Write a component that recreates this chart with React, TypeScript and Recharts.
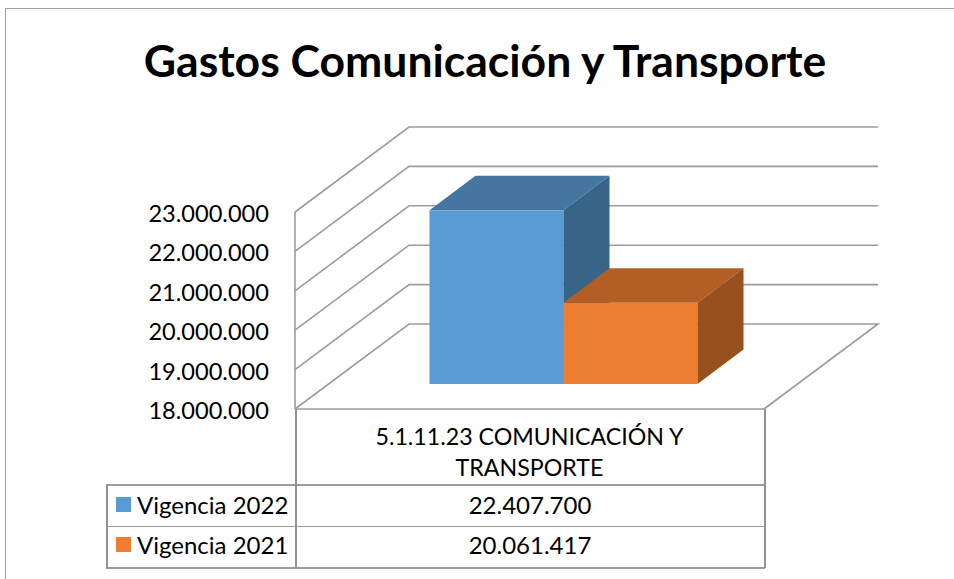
import React from "react";
import { BarChart, Bar, XAxis, YAxis, CartesianGrid } from "recharts";

const titleText = "Gastos Comunicación y Transporte";
const categories = ["5.1.11.23 COMUNICACIÓN Y TRANSPORTE"];
const vigencia2022 = [22407700];
const vigencia2021 = [20061417];
const seriesNames = ["Vigencia 2022", "Vigencia 2021"];
const yTicks = [18000000, 19000000, 20000000, 21000000, 22000000, 23000000];

const chartData = categories.map((category, i) => ({
  category,
  [seriesNames[0]]: vigencia2022[i],
  [seriesNames[1]]: vigencia2021[i],
}));

const FONT = "Lato, Carlito, Calibri, sans-serif";
const LINE = "#9c9c9c";
const WALL_DX = 114;
const WALL_DY = 85;
const BAR_SHIFT_X = 33.5;
const BAR_SHIFT_Y = 25;
const BOX_DX = 46;
const BOX_DY = 34.5;

const fmt = (v: number) => String(v).replace(/\B(?=(\d{3})+(?!\d))/g, ".");

const palette = [
  { front: "#5B9BD5", top: "#4575A1", side: "#386488" },
  { front: "#ED7D31", top: "#B35E24", side: "#98501F" },
];

const makeBox = (idx: number) => (props: any) => {
  const { x, y, width, height } = props;
  const c = palette[idx];
  const l = x + BAR_SHIFT_X;
  const r = l + width;
  const t = y - BAR_SHIFT_Y;
  const b = t + height;
  return (
    <g>
      <rect x={l} y={t} width={width} height={height} fill={c.front} />
      <polygon
        points={`${l},${t} ${l + BOX_DX},${t - BOX_DY} ${r + BOX_DX},${t - BOX_DY} ${r},${t}`}
        fill={c.top}
      />
      <polygon
        points={`${r},${t} ${r + BOX_DX},${t - BOX_DY} ${r + BOX_DX},${b - BOX_DY} ${r},${b}`}
        fill={c.side}
      />
    </g>
  );
};

const wallLine = (props: any) => {
  const { x1, y1, x2, index } = props;
  const bx = x1 + WALL_DX;
  const by = y1 - WALL_DY;
  const isFloor = y1 > 405;
  const d = isFloor
    ? `M${x1},${y1} L${bx},${by} L${x2 + WALL_DX},${by} L${x2},${y1}`
    : `M${x1},${y1} L${bx},${by} L${x2 + WALL_DX},${by}`;
  return <path key={`wall-${index}-${y1}`} d={d} fill="none" stroke={LINE} strokeWidth={1.6} />;
};

const CategoryTick = (props: any) => {
  const { x, payload } = props;
  const words = String(payload.value).split(" ");
  const last = words.pop();
  return (
    <g>
      <text x={x} y={445} textAnchor="middle" fontFamily={FONT} fontSize={23.2} fill="#000">
        {words.join(" ")}
      </text>
      <text x={x} y={476} textAnchor="middle" fontFamily={FONT} fontSize={23.2} fill="#000">
        {last}
      </text>
    </g>
  );
};

const YTick = (props: any) => {
  const { x, y, payload } = props;
  return (
    <text x={x} y={y + 10} textAnchor="end" fontFamily={FONT} fontSize={23.6} fill="#000">
      {fmt(payload.value)}
    </text>
  );
};

const hLine = (left: number, top: number, width: number): React.CSSProperties => ({
  position: "absolute", left, top, width, height: 1.5, background: LINE,
});
const vLine = (left: number, top: number, height: number): React.CSSProperties => ({
  position: "absolute", left, top, width: 1.5, height, background: "#929292",
});

const rows = [
  { name: seriesNames[0], value: vigencia2022[0], color: palette[0].front, top: 484 },
  { name: seriesNames[1], value: vigencia2021[0], color: palette[1].front, top: 524 },
];

export default function App() {
  return (
    <div style={{ position: "absolute", left: 0, top: 0, width: 954, height: 579, overflow: "hidden", background: "#fff", fontFamily: FONT }}>
      <div style={{ position: "absolute", left: 5, top: 8, width: 1000, height: 700, border: "1.5px solid #a0a0a0" }} />
      <div style={{ position: "absolute", left: 0, top: 32, width: 970, textAlign: "center", fontWeight: 700, fontSize: 44.5, lineHeight: "56px", color: "#000", whiteSpace: "nowrap" }}>
        {titleText}
      </div>
      <div style={{ position: "absolute", left: 0, top: 0 }}>
        <BarChart
          width={954}
          height={579}
          data={chartData}
          margin={{ top: 212, right: 190, bottom: 0, left: 145 }}
          barSize={134}
          barGap={0}
        >
          <CartesianGrid vertical={false} horizontal={wallLine} />
          <XAxis
            dataKey="category"
            height={170}
            axisLine={{ stroke: LINE, strokeWidth: 1.6 }}
            tickLine={false}
            tick={<CategoryTick />}
            interval={0}
          />
          <YAxis
            domain={[18000000, 23000000]}
            ticks={yTicks}
            width={150}
            axisLine={{ stroke: LINE, strokeWidth: 1.6 }}
            tickLine={false}
            tickSize={0}
            tickMargin={26}
            tick={<YTick />}
          />
          <Bar dataKey={seriesNames[0]} isAnimationActive={false} shape={makeBox(0)} />
          <Bar dataKey={seriesNames[1]} isAnimationActive={false} shape={makeBox(1)} />
        </BarChart>
      </div>
      <div style={hLine(106, 484, 659)} />
      <div style={hLine(106, 525.5, 659)} />
      <div style={hLine(106, 567, 659)} />
      <div style={vLine(106, 484, 84)} />
      <div style={vLine(295, 409, 159)} />
      <div style={vLine(764, 409, 159)} />
      {rows.map((r) => (
        <React.Fragment key={r.name}>
          <div style={{ position: "absolute", left: 116, top: r.top + 13, width: 15, height: 15, background: r.color }} />
          <div style={{ position: "absolute", left: 137, top: r.top, height: 41, lineHeight: "41px", fontSize: 24, color: "#000", whiteSpace: "nowrap" }}>
            {r.name}
          </div>
          <div style={{ position: "absolute", left: 296, top: r.top, width: 468, height: 41, lineHeight: "41px", fontSize: 24, color: "#000", textAlign: "center" }}>
            {fmt(r.value)}
          </div>
        </React.Fragment>
      ))}
    </div>
  );
}
